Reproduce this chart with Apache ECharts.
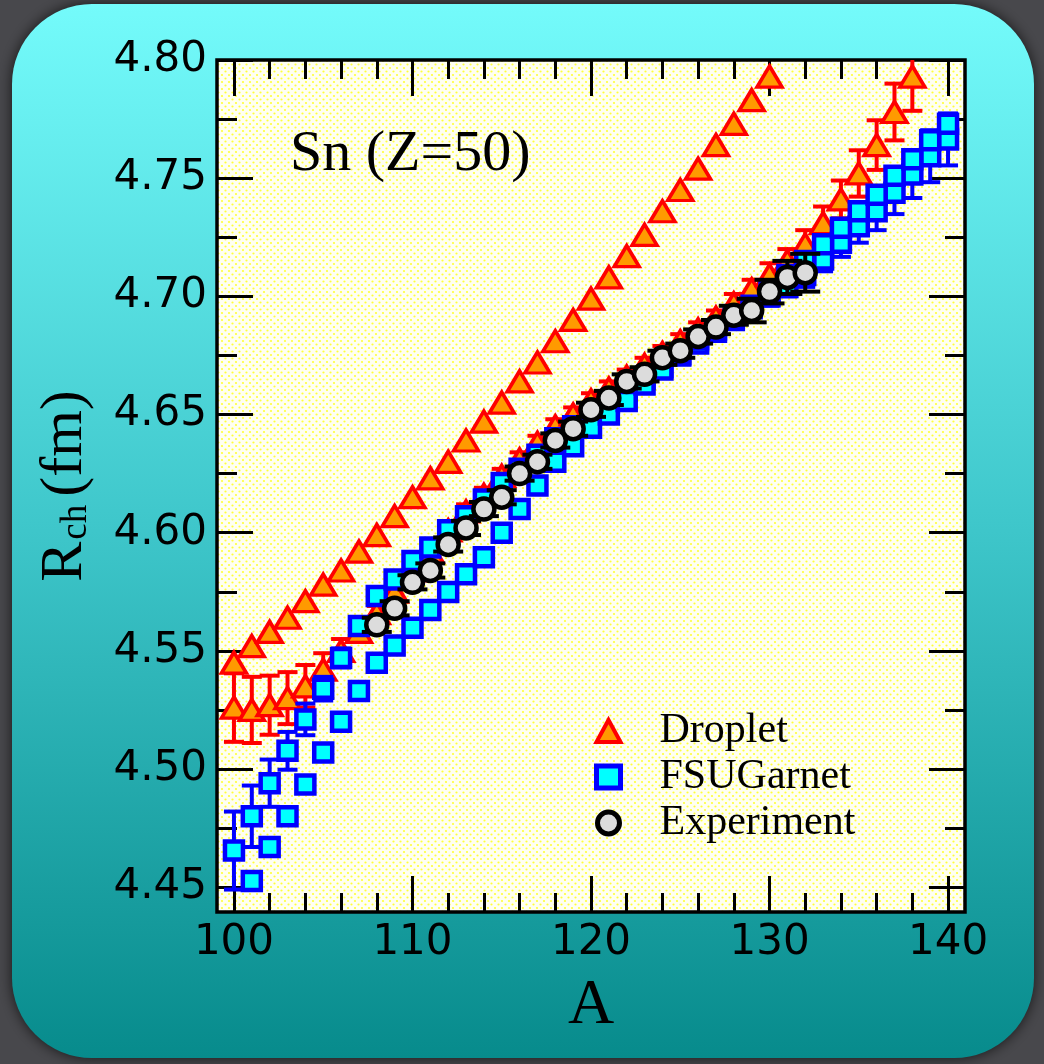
<!DOCTYPE html>
<html>
<head>
<meta charset="utf-8">
<script src="https://cdn.jsdelivr.net/npm/echarts@6/dist/echarts.min.js"></script>
<style>
  html, body { margin: 0; padding: 0; background: #48484c; }
  #main { width: 1044px; height: 1064px; }
</style>
</head>
<body>
<div id="main"></div>
<script>
// values
var dropTopA = [100,101,102,103,104,105,106,107,108,109,110,111,112,113,114,115,116,117,118,119,120,121,122,123,124,125,126,127,128,129,130];
var dropTopR = [4.545,4.552,4.558,4.564,4.571,4.578,4.584,4.592,4.599,4.607,4.615,4.623,4.630,4.639,4.647,4.655,4.664,4.672,4.681,4.690,4.699,4.708,4.717,4.726,4.736,4.745,4.754,4.764,4.773,4.783,4.793];

var dropLowA = [100,101,102,103,104,105,106,107,108,109,110,111,112,113,114,115,116,117,118,119,120,121,122,123,124,125,126,127,128,129,130,131,132,133,134,135,136,137,138];
var dropLowR = [4.526,4.525,4.527,4.530,4.535,4.542,4.550,4.558,4.566,4.575,
                4.584,4.592,4.601,4.609,4.616,4.624,4.631,4.638,4.645,4.650,
                4.656,4.661,4.666,4.671,4.676,4.681,4.686,4.691,4.697,4.703,
                4.709,4.715,4.722,4.731,4.741,4.752,4.764,4.778,4.793];
var dropLowErr = [0.0145,0.014,0.0125,0.011,0.009,0.007,0.005,0.004,0.003,0.003,
                  0.003,0.003,0.003,0.003,0.003,0.003,0.003,0.003,0.003,0.003,
                  0.003,0.003,0.003,0.003,0.003,0.003,0.003,0.003,0.004,0.004,
                  0.005,0.005,0.006,0.007,0.008,0.0098,0.0105,0.012,0.0145];

var garnetA = [100,101,102,103,104,105,106,107,108,109,110,111,112,113,114,115,116,117,118,119,120,121,122,123,124,125,126,127,128,129,130,131,132,133,134,135,136,137,138,139,140];
var garnetR = [4.4655,4.480,4.494,4.5077,4.521,4.534,4.547,4.5605,4.5732,4.5802,
               4.588,4.5937,4.601,4.607,4.614,4.621,4.627,4.633,4.640,4.645,
               4.650,4.655,4.660,4.665,4.670,4.675,4.680,4.685,4.690,4.695,
               4.700,4.704,4.709,4.7156,4.7227,4.7297,4.736,4.7438,4.7516,4.7593,4.7664];
var garnetErr = [0.0165,0.013,0.010,0.008,0.0067,0.005,0.004,0.003,0.003,0.003,
                 0.003,0.003,0.003,0.003,0.003,0.003,0.003,0.003,0.003,0.003,
                 0.003,0.003,0.003,0.003,0.003,0.003,0.003,0.003,0.003,0.003,
                 0.004,0.004,0.005,0.005,0.006,0.007,0.008,0.009,0.010,0.011,0.011];

var garnet2A = [101,102,103,104,105,106,107,108,109,110,111,112,113,114,115,116,117,118,119,120,121,122,123,124,125,126,127,128,129,130,131,132,133,134,135,136,137,138,139,140];
var garnet2R = [4.4526,4.467,4.480,4.4935,4.507,4.520,4.533,4.545,4.5523,
                4.5598,4.5673,4.5749,4.5824,4.5896,4.600,4.610,4.620,4.630,4.6366,
                4.6444,4.650,4.6557,4.6627,4.669,4.6755,4.6818,4.686,4.691,4.696,
                4.702,4.709,4.715,4.722,4.729,4.736,4.743,4.751,4.758,4.766,4.773];

var expA = [108,109,110,111,112,113,114,115,116,117,118,119,120,121,122,123,124,125,126,127,128,129,130,131,132];
var expR = [4.561,4.568,4.579,4.584,4.595,4.602,4.610,4.615,4.625,4.630,4.639,4.644,4.652,4.657,4.664,4.667,4.674,4.677,4.683,4.687,4.692,4.694,4.702,4.708,4.710];
var expErr = [0.003,0.003,0.003,0.003,0.003,0.003,0.003,0.003,0.003,0.003,0.003,0.003,0.003,0.003,0.003,0.003,0.003,0.003,0.003,0.003,0.004,0.005,0.005,0.007,0.008];

var xMajor = [100,110,120,130,140];
var xMinor = [102,104,106,108,112,114,116,118,122,124,126,128,132,134,136,138];
var yMajor = [4.45,4.50,4.55,4.60,4.65,4.70,4.75,4.80];
var yMinor = [4.475,4.525,4.575,4.625,4.675,4.725,4.775];

var xMin = 99.05, xMax = 140.95, yMin = 4.4395, yMax = 4.80;

function pairs(xs, ys) {
  return xs.map(function (x, i) { return [x, ys[i]]; });
}
function triples(xs, ys, es) {
  return xs.map(function (x, i) { return [x, ys[i], es[i]]; });
}

// I-shaped error bar drawn through the cartesian scale
function errBars(capW, color, lw) {
  return function (params, api) {
    var a = api.value(0), r = api.value(1), e = api.value(2);
    var p1 = api.coord([a, r + e]);
    var p2 = api.coord([a, r - e]);
    var h = capW / 2;
    var st = { stroke: color, lineWidth: lw };
    return {
      type: 'group',
      children: [
        { type: 'line', shape: { x1: p1[0], y1: p1[1], x2: p2[0], y2: p2[1] }, style: st },
        { type: 'line', shape: { x1: p1[0] - h, y1: p1[1], x2: p1[0] + h, y2: p1[1] }, style: st },
        { type: 'line', shape: { x1: p2[0] - h, y1: p2[1], x2: p2[0] + h, y2: p2[1] }, style: st }
      ]
    };
  };
}

// dotted yellow paper
var pat = document.createElement('canvas');
pat.width = 7; pat.height = 7;
var pc = pat.getContext('2d');
pc.fillStyle = '#fffff2';
pc.fillRect(0, 0, 7, 7);
pc.fillStyle = '#ffff3a';
pc.beginPath(); pc.arc(1.5, 1.5, 1.1, 0, Math.PI * 2); pc.fill();
pc.beginPath(); pc.arc(5, 5, 1.1, 0, Math.PI * 2); pc.fill();

var tickStyle = { color: '#000', width: 3 };
var labelFont = { fontFamily: 'DejaVu Sans', fontSize: 42, color: '#000' };

function xAx(pos, values, len, labels) {
  return {
    type: 'value', min: xMin, max: xMax, position: pos,
    axisLine: { show: false }, splitLine: { show: false },
    axisTick: { show: true, inside: true, length: len, lineStyle: tickStyle, customValues: values },
    axisLabel: labels ? Object.assign({ show: true, margin: 10, customValues: values }, labelFont) : { show: false }
  };
}
function yAx(pos, values, len, labels) {
  return {
    type: 'value', min: yMin, max: yMax, position: pos,
    axisLine: { show: false }, splitLine: { show: false },
    axisTick: { show: true, inside: true, length: len, lineStyle: tickStyle, customValues: values },
    axisLabel: labels ? Object.assign({ show: true, margin: 10, customValues: values,
      formatter: function (v) { return v.toFixed(2); } }, labelFont) : { show: false }
  };
}

var xAxes = [xAx('bottom', xMajor, 36, true), xAx('bottom', xMinor, 19, false),
             xAx('top', xMajor, 36, false), xAx('top', xMinor, 19, false)];
xAxes[0].name = 'A';
xAxes[0].nameLocation = 'middle';
xAxes[0].nameGap = 62;
xAxes[0].nameTextStyle = { fontFamily: 'Liberation Serif', fontSize: 64, color: '#000' };

var yAxes = [yAx('left', yMajor, 36, true), yAx('left', yMinor, 20, false),
             yAx('right', yMajor, 36, false), yAx('right', yMinor, 20, false)];
yAxes[0].name = '{r|R}{s|ch}{r|(fm)}';
yAxes[0].nameLocation = 'middle';
yAxes[0].nameRotate = 90;
yAxes[0].nameGap = 122;
yAxes[0].nameTextStyle = {
  color: '#000',
  rich: {
    r: { fontFamily: 'Liberation Serif', fontSize: 60, color: '#000' },
    s: { fontFamily: 'Liberation Serif', fontSize: 37, color: '#000', padding: [22, 8, 0, 2] }
  }
};

var triStyle = { color: '#ff9a00', borderColor: '#ff0000', borderWidth: 3.5, opacity: 1 };
var sqStyle = { color: '#00ffff', borderColor: '#0000ff', borderWidth: 4.5, opacity: 1 };
var cirStyle = { color: '#dcdcdc', borderColor: '#000000', borderWidth: 4.5, opacity: 1 };

var chart = echarts.init(document.getElementById('main'), null, { renderer: 'canvas' });

var option = {
  backgroundColor: '#48484c',
  animation: false,
  graphic: [
    {
      type: 'rect', z: -10, silent: true,
      shape: { x: 12, y: 4, width: 1022, height: 1054, r: 80 },
      style: {
        fill: new echarts.graphic.LinearGradient(0, 0, 0, 1, [
          { offset: 0, color: '#74fbfb' },
          { offset: 0.5, color: '#3ec6ca' },
          { offset: 1, color: '#078b8c' }
        ]),
        shadowBlur: 14, shadowColor: 'rgba(0,0,0,0.7)'
      }
    },
    {
      type: 'text', z: 100, left: 290, top: 126,
      style: { text: 'Sn (Z=50)', font: '58px "Liberation Serif"', fill: '#000' }
    }
  ],
  grid: {
    left: 217, right: 79, top: 60, bottom: 152,
    show: true, borderColor: '#000', borderWidth: 3.5,
    backgroundColor: { image: pat, repeat: 'repeat' }
  },
  legend: {
    orient: 'vertical', left: 589, top: 703,
    itemWidth: 24, itemHeight: 22, itemGap: 0,
    selectedMode: false,
    textStyle: { fontFamily: 'Liberation Serif', fontSize: 42, color: '#000', lineHeight: 46, padding: [0, 0, 0, 34] },
    data: [
      { name: 'Droplet', icon: 'triangle', itemStyle: { color: '#ff9a00', borderColor: '#ff0000', borderWidth: 4 } },
      { name: 'FSUGarnet', icon: 'rect', itemStyle: { color: '#00ffff', borderColor: '#0000ff', borderWidth: 5 } },
      { name: 'Experiment', icon: 'circle', itemStyle: { color: '#dcdcdc', borderColor: '#000000', borderWidth: 5 } }
    ]
  },
  xAxis: xAxes,
  yAxis: yAxes,
  series: [
    {
      name: 'Droplet', type: 'scatter', z: 2, data: pairs(dropTopA, dropTopR),
      symbol: 'triangle', symbolSize: [25, 21], itemStyle: triStyle
    },
    {
      type: 'custom', z: 1, silent: true, clip: true,
      renderItem: errBars(20, '#ff0000', 4), encode: { x: 0, y: 1 },
      data: triples(dropLowA, dropLowR, dropLowErr)
    },
    {
      name: 'Droplet', type: 'scatter', z: 2, data: pairs(dropLowA, dropLowR),
      symbol: 'triangle', symbolSize: [25, 21], itemStyle: triStyle
    },
    {
      type: 'custom', z: 3, silent: true, clip: true,
      renderItem: errBars(20, '#0000ff', 4), encode: { x: 0, y: 1 },
      data: triples(garnetA, garnetR, garnetErr)
    },
    {
      name: 'FSUGarnet', type: 'scatter', z: 4, data: pairs(garnetA, garnetR),
      symbol: 'rect', symbolSize: 18, itemStyle: sqStyle
    },
    {
      name: 'FSUGarnet', type: 'scatter', z: 4, data: pairs(garnet2A, garnet2R),
      symbol: 'rect', symbolSize: 18, itemStyle: sqStyle
    },
    {
      type: 'custom', z: 5, silent: true, clip: true,
      renderItem: errBars(30, '#000000', 4), encode: { x: 0, y: 1 },
      data: triples(expA, expR, expErr)
    },
    {
      name: 'Experiment', type: 'scatter', z: 6, data: pairs(expA, expR),
      symbol: 'circle', symbolSize: 21, itemStyle: cirStyle
    }
  ]
};

chart.setOption(option);
</script>
</body>
</html>
